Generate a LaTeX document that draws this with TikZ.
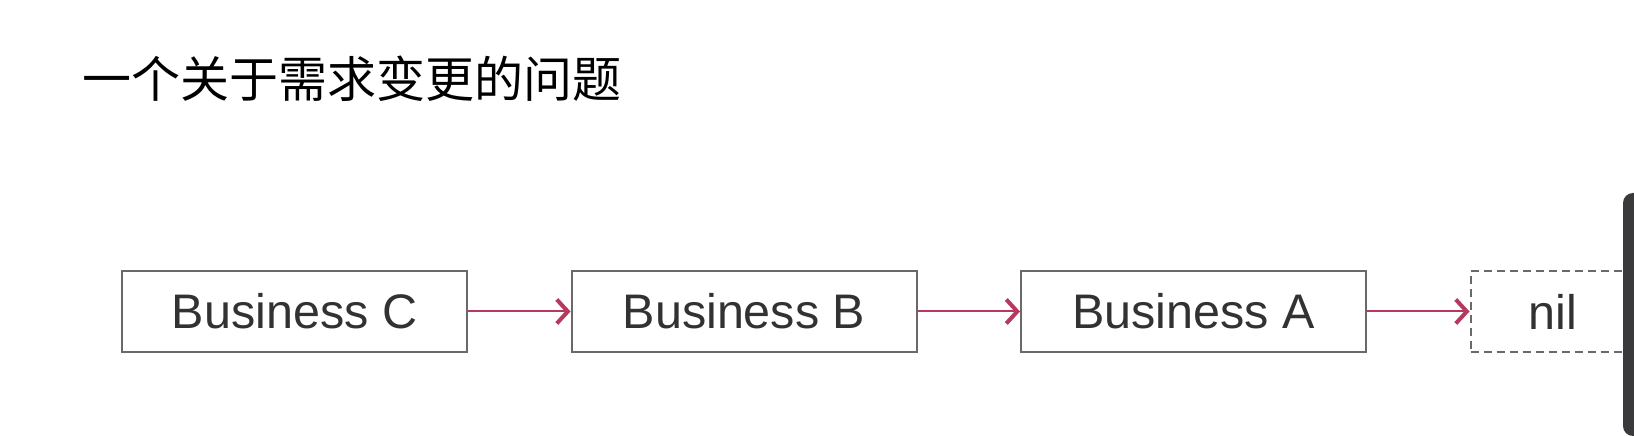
\documentclass[tikz,border=0pt]{standalone}
\usepackage{fontspec}
\setmainfont{Liberation Sans}
\newfontfamily\cjk{Noto Sans CJK SC}
\usetikzlibrary{positioning, arrows.meta}

\definecolor{linkred}{RGB}{182,58,95}
\definecolor{boxgray}{RGB}{105,105,105}
\definecolor{textgray}{RGB}{50,50,50}
\definecolor{sidebar}{RGB}{58,58,60}

\tikzset{
  bizbox/.style={draw=boxgray, line width=2pt, minimum width=345pt, minimum height=81pt,
    inner sep=0pt, text=textgray, font=\fontsize{48.5}{52}\selectfont},
  nilbox/.style={bizbox, dashed, dash pattern=on 8pt off 5pt, minimum width=165pt},
  link/.style={draw=linkred, line width=2pt, -{Straight Barb[length=11pt, width=24pt, line width=4pt]}}
}

\begin{document}
\begin{tikzpicture}[x=1pt, y=1pt]
  \useasboundingbox (0,0) rectangle (1634,436);
  \clip (0,0) rectangle (1634,436);
  \fill[white] (0,0) rectangle (1634,436);

  % Title
  \node[anchor=west, inner sep=0pt, font=\cjk\fontsize{49}{56}\selectfont] (title) at (82,357) {一个关于需求变更的问题};

  % Chain
  \node[bizbox] (bc) at (294.5,124.5) {Business C};
  \node[bizbox, right=102.5pt of bc] (bb) {Business B};
  \node[bizbox, right=102.5pt of bb] (ba) {Business A};
  \node[nilbox, right=102.5pt of ba] (nil) {nil};

  \draw[link] (bc) -- (bb);
  \draw[link] (bb) -- (ba);
  \draw[link] (ba) -- (nil);

  % side bar
  \fill[sidebar, rounded corners=10pt] (1623,0) rectangle (1660,243);
\end{tikzpicture}
\end{document}
